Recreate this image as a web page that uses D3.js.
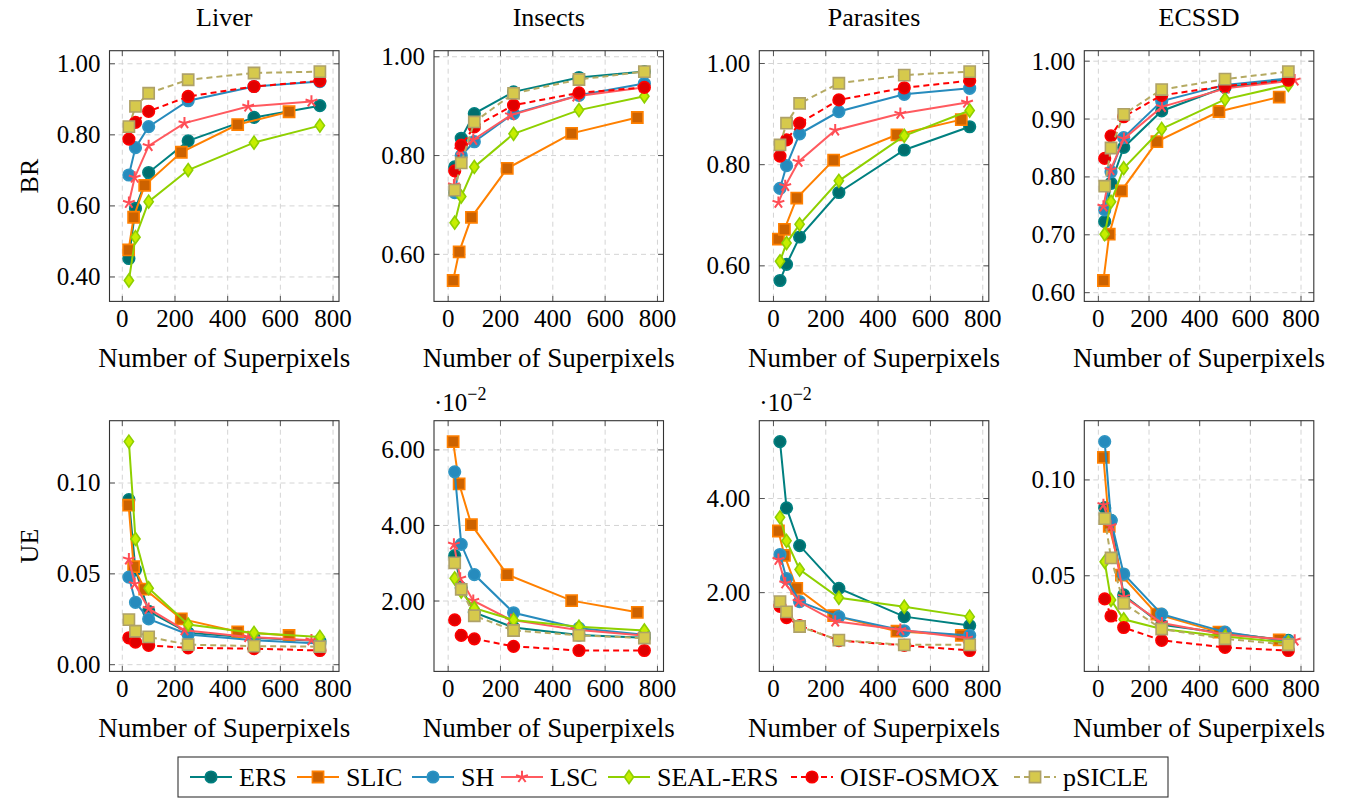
<!DOCTYPE html>
<html>
<head>
<meta charset="utf-8">
<script src="https://cdn.jsdelivr.net/npm/d3@7"></script>
<style>
  body { margin: 0; background: #fff; }
  text { font-family: "Liberation Serif", "Times New Roman", serif; fill: #000; }
</style>
</head>
<body>
<div id="chart"></div>
<script>
// chart data
var datasets = ["Liver", "Insects", "Parasites", "ECSSD"];
var methods = ["ERS", "SLIC", "SH", "LSC", "SEAL-ERS", "OISF-OSMOX", "pSICLE"];

// number of superpixels (x) per dataset; SLIC and LSC give their own counts
var xStd = [25, 50, 100, 250, 500, 750];
var xSlicLiver = [24, 43, 85, 224, 438, 633];
var xSlicInsects = [19, 42, 89, 226, 472, 723];
var xSlicParasites = [19, 42, 89, 230, 472, 718];
var xSlicEcssd = [20, 43, 91, 231, 476, 714];
var xLscLiver = [25, 47, 100, 236, 478, 718];
var xLscInsects = [22, 46, 96, 240, 490, 745];
var xLscParasites = [19, 45, 96, 236, 485, 740];
var xLscEcssd = [20, 48, 101, 251, 503, 775];

// boundary recall, order = methods
var brLiver = [
  [0.452, 0.593, 0.694, 0.783, 0.849, 0.882],
  [0.476, 0.568, 0.658, 0.751, 0.829, 0.865],
  [0.687, 0.764, 0.823, 0.896, 0.936, 0.950],
  [0.609, 0.680, 0.769, 0.833, 0.880, 0.894],
  [0.390, 0.512, 0.612, 0.701, 0.778, 0.826],
  [0.788, 0.835, 0.866, 0.908, 0.936, 0.952],
  [0.823, 0.880, 0.917, 0.955, 0.974, 0.978]
];
var brInsects = [
  [0.777, 0.835, 0.885, 0.929, 0.958, 0.970],
  [0.547, 0.605, 0.675, 0.774, 0.845, 0.877],
  [0.725, 0.800, 0.828, 0.885, 0.922, 0.946],
  [0.740, 0.812, 0.832, 0.882, 0.920, 0.938],
  [0.664, 0.717, 0.777, 0.844, 0.892, 0.920],
  [0.769, 0.821, 0.858, 0.902, 0.927, 0.938],
  [0.730, 0.785, 0.868, 0.926, 0.954, 0.970]
];
var brParasites = [
  [0.571, 0.603, 0.657, 0.745, 0.829, 0.875],
  [0.653, 0.672, 0.734, 0.809, 0.859, 0.889],
  [0.753, 0.798, 0.861, 0.905, 0.939, 0.951],
  [0.725, 0.758, 0.806, 0.868, 0.901, 0.923],
  [0.609, 0.645, 0.682, 0.768, 0.857, 0.907],
  [0.817, 0.849, 0.882, 0.928, 0.952, 0.966],
  [0.839, 0.882, 0.921, 0.961, 0.977, 0.984]
];
var brEcssd = [
  [0.723, 0.789, 0.851, 0.914, 0.955, 0.968],
  [0.621, 0.701, 0.776, 0.861, 0.913, 0.938],
  [0.743, 0.809, 0.868, 0.931, 0.959, 0.970],
  [0.749, 0.812, 0.866, 0.921, 0.953, 0.967],
  [0.701, 0.757, 0.815, 0.883, 0.934, 0.959],
  [0.832, 0.871, 0.904, 0.941, 0.957, 0.967],
  [0.784, 0.850, 0.908, 0.951, 0.969, 0.982]
];

// under-segmentation error (Insects and Parasites in units of 10^-2)
var ueLiver = [
  [0.0909, 0.0522, 0.0294, 0.0175, 0.0148, 0.0130],
  [0.0878, 0.0540, 0.0416, 0.0252, 0.0181, 0.0161],
  [0.0482, 0.0343, 0.0252, 0.0166, 0.0135, 0.0117],
  [0.0580, 0.0445, 0.0308, 0.0190, 0.0153, 0.0135],
  [0.1228, 0.0692, 0.0421, 0.0221, 0.0175, 0.0153],
  [0.0148, 0.0124, 0.0106, 0.0093, 0.0088, 0.0078],
  [0.0248, 0.0184, 0.0153, 0.0110, 0.0102, 0.0099]
];
var ueInsects = [
  [3.20, 2.35, 1.70, 1.30, 1.10, 1.03],
  [6.22, 5.10, 4.02, 2.70, 2.01, 1.70],
  [5.42, 3.50, 2.70, 1.69, 1.28, 1.11],
  [3.50, 2.60, 2.01, 1.50, 1.24, 1.09],
  [2.60, 2.25, 1.81, 1.50, 1.32, 1.22],
  [1.50, 1.09, 1.00, 0.80, 0.69, 0.69],
  [3.01, 2.31, 1.61, 1.22, 1.09, 1.02]
];
var ueParasites = [
  [5.21, 3.80, 3.00, 2.09, 1.49, 1.30],
  [3.31, 2.79, 2.09, 1.51, 1.18, 1.09],
  [2.81, 2.30, 1.81, 1.49, 1.19, 1.09],
  [2.70, 2.20, 1.81, 1.39, 1.21, 1.03],
  [3.60, 3.10, 2.49, 1.89, 1.70, 1.49],
  [1.71, 1.47, 1.30, 0.98, 0.88, 0.77],
  [1.81, 1.59, 1.28, 0.99, 0.89, 0.89]
];
var ueEcssd = [
  [0.0855, 0.0789, 0.0400, 0.0244, 0.0200, 0.0163],
  [0.1118, 0.0758, 0.0503, 0.0300, 0.0206, 0.0166],
  [0.1200, 0.0789, 0.0509, 0.0300, 0.0206, 0.0158],
  [0.0870, 0.0760, 0.0390, 0.0253, 0.0192, 0.0163],
  [0.0573, 0.0374, 0.0273, 0.0222, 0.0183, 0.0152],
  [0.0379, 0.0290, 0.0230, 0.0163, 0.0126, 0.0110],
  [0.0798, 0.0593, 0.0356, 0.0222, 0.0171, 0.0140]
];

var xTicks = [0, 200, 400, 600, 800];
var yTicksBR = [[0.4, 0.6, 0.8, 1.0], [0.6, 0.8, 1.0], [0.6, 0.8, 1.0], [0.6, 0.7, 0.8, 0.9, 1.0]];
var yTicksUE = [[0, 0.05, 0.10], [2, 4, 6], [2, 4], [0.05, 0.10]];
var ueScaled = [false, true, true, false];

var xSlic = [xSlicLiver, xSlicInsects, xSlicParasites, xSlicEcssd];
var xLsc = [xLscLiver, xLscInsects, xLscParasites, xLscEcssd];
var brData = [brLiver, brInsects, brParasites, brEcssd];
var ueData = [ueLiver, ueInsects, ueParasites, ueEcssd];

// styles
var styles = [
  { line: "#008080", fill: "#006e6e", stroke: "#008080", mark: "circle", dash: null },
  { line: "#ff8000", fill: "#cc6200", stroke: "#ff8000", mark: "square", dash: null },
  { line: "#268bbd", fill: "#268bbd", stroke: "#2f95c3", mark: "circle", dash: null },
  { line: "#ff5a5f", fill: "none", stroke: "#ff4d55", mark: "star", dash: null },
  { line: "#8fd000", fill: "#c6ee00", stroke: "#8fd000", mark: "diamond", dash: null },
  { line: "#ff0000", fill: "#e00000", stroke: "#ff0000", mark: "circle", dash: "6,4" },
  { line: "#b5aa62", fill: "#d6c94c", stroke: "#aea168", mark: "square", dash: "6,4" }
];

var W = 1346, H = 800;
var boxLeft = [109.5, 434, 759.3, 1084.3];
var boxW = 229.5;
var rowTop = [50.7, 420.7];
var boxH = 250.7;

var svg = d3.select("#chart").append("svg")
  .attr("width", W)
  .attr("height", H);

function markPath(type) {
  if (type === "circle") {
    var r = 5.8;
    return `M${-r},0a${r},${r} 0 1,0 ${2 * r},0a${r},${r} 0 1,0 ${-2 * r},0z`;
  }
  if (type === "square") {
    var s = 5.6;
    return `M${-s},${-s}h${2 * s}v${2 * s}h${-2 * s}z`;
  }
  if (type === "diamond") {
    return "M0,-6.5L4.6,0L0,6.5L-4.6,0z";
  }
  // star: spokes from the centre
  var p = "";
  for (var k = 0; k < 5; k++) {
    var a = (-90 + 72 * k) * Math.PI / 180;
    p += `M0,0L${(6.2 * Math.cos(a)).toFixed(2)},${(6.2 * Math.sin(a)).toFixed(2)}`;
  }
  return p;
}

function xValues(d, m) {
  if (m === 1) return xSlic[d];
  if (m === 3) return xLsc[d];
  return xStd;
}

function drawPanel(d, row) {
  var vals = row === 0 ? brData[d] : ueData[d];
  var yTicks = row === 0 ? yTicksBR[d] : yTicksUE[d];
  var left = boxLeft[d], top = rowTop[row];

  // pgfplots style: enlarge limits by 10% of data range
  var allX = [], allY = [];
  vals.forEach(function(series, m) {
    xValues(d, m).forEach(function(v) { allX.push(v); });
    series.forEach(function(v) { allY.push(v); });
  });
  var xe = d3.extent(allX), ye = d3.extent(allY);
  var xPad = (xe[1] - xe[0]) * 0.1, yPad = (ye[1] - ye[0]) * 0.1;

  var x = d3.scaleLinear().domain([xe[0] - xPad, xe[1] + xPad]).range([0, boxW]);
  var y = d3.scaleLinear().domain([ye[0] - yPad, ye[1] + yPad]).range([boxH, 0]);

  var g = svg.append("g").attr("transform", `translate(${left}, ${top})`);

  // grid
  g.append("g").selectAll("line")
    .data(xTicks)
    .enter().append("line")
    .attr("x1", t => x(t)).attr("x2", t => x(t))
    .attr("y1", 0).attr("y2", boxH)
    .attr("stroke", "#d4d4d4").attr("stroke-dasharray", "5,4").attr("stroke-width", 1);
  g.append("g").selectAll("line")
    .data(yTicks)
    .enter().append("line")
    .attr("x1", 0).attr("x2", boxW)
    .attr("y1", t => y(t)).attr("y2", t => y(t))
    .attr("stroke", "#d4d4d4").attr("stroke-dasharray", "5,4").attr("stroke-width", 1);

  // ticks inside the box, all four sides
  var tl = 5.5;
  var ticks = g.append("g").attr("stroke", "#555").attr("stroke-width", 1);
  xTicks.forEach(function(t) {
    ticks.append("line").attr("x1", x(t)).attr("x2", x(t)).attr("y1", boxH).attr("y2", boxH - tl);
    ticks.append("line").attr("x1", x(t)).attr("x2", x(t)).attr("y1", 0).attr("y2", tl);
  });
  yTicks.forEach(function(t) {
    ticks.append("line").attr("x1", 0).attr("x2", tl).attr("y1", y(t)).attr("y2", y(t));
    ticks.append("line").attr("x1", boxW).attr("x2", boxW - tl).attr("y1", y(t)).attr("y2", y(t));
  });

  // tick labels
  g.append("g").selectAll("text")
    .data(xTicks)
    .enter().append("text")
    .attr("x", t => x(t))
    .attr("y", boxH + 25.5)
    .attr("text-anchor", "middle")
    .attr("font-size", "25px")
    .text(t => t);
  g.append("g").selectAll("text")
    .data(yTicks)
    .enter().append("text")
    .attr("x", -9)
    .attr("y", t => y(t))
    .attr("dy", "0.34em")
    .attr("text-anchor", "end")
    .attr("font-size", "25px")
    .text(t => d3.format(".2f")(t));

  // series
  var line = d3.line().x(p => x(p[0])).y(p => y(p[1]));
  vals.forEach(function(series, m) {
    var st = styles[m];
    var pts = xValues(d, m).map((xv, i) => [xv, series[i]]);
    g.append("path")
      .datum(pts)
      .attr("d", line)
      .attr("fill", "none")
      .attr("stroke", st.line)
      .attr("stroke-width", 2)
      .attr("stroke-dasharray", st.dash);
    g.append("g").selectAll("path")
      .data(pts)
      .enter().append("path")
      .attr("transform", p => `translate(${x(p[0])}, ${y(p[1])})`)
      .attr("d", markPath(st.mark))
      .attr("fill", st.fill)
      .attr("stroke", st.stroke)
      .attr("stroke-width", st.mark === "star" ? 2 : 1.6);
  });

  // box
  g.append("rect")
    .attr("width", boxW).attr("height", boxH)
    .attr("fill", "none").attr("stroke", "#333").attr("stroke-width", 1.1);

  // x label
  g.append("text")
    .attr("x", boxW / 2)
    .attr("y", boxH + 66)
    .attr("text-anchor", "middle")
    .attr("font-size", "27px")
    .text("Number of Superpixels");

  if (row === 0) {
    g.append("text")
      .attr("x", boxW / 2)
      .attr("y", -25)
      .attr("text-anchor", "middle")
      .attr("font-size", "26px")
      .text(datasets[d]);
  }

  if (row === 1 && ueScaled[d]) {
    var sc = g.append("text")
      .attr("x", 0)
      .attr("y", -10)
      .attr("font-size", "25px");
    sc.append("tspan").text("\u00b710");
    sc.append("tspan").attr("dy", -11).attr("font-size", "18px").text("\u22122");
  }
}

d3.range(4).forEach(function(d) {
  drawPanel(d, 0);
  drawPanel(d, 1);
});

// row labels
[["BR", rowTop[0] + boxH / 2], ["UE", rowTop[1] + boxH / 2]].forEach(function(r) {
  svg.append("text")
    .attr("transform", `translate(38, ${r[1]}) rotate(-90)`)
    .attr("text-anchor", "middle")
    .attr("font-size", "26px")
    .text(r[0]);
});

// legend
var legendX = [211, 318, 433, 522, 629, 812, 1035];
var legend = svg.append("g");
legend.append("rect")
  .attr("x", 178).attr("y", 757)
  .attr("width", 990).attr("height", 40)
  .attr("fill", "#fff").attr("stroke", "#333").attr("stroke-width", 1.1);

methods.forEach(function(name, m) {
  var st = styles[m];
  var cx = legendX[m], cy = 777;
  legend.append("line")
    .attr("x1", cx - 21).attr("x2", cx + 21)
    .attr("y1", cy).attr("y2", cy)
    .attr("stroke", st.line).attr("stroke-width", 2)
    .attr("stroke-dasharray", st.dash);
  legend.append("path")
    .attr("transform", `translate(${cx}, ${cy})`)
    .attr("d", markPath(st.mark))
    .attr("fill", st.fill)
    .attr("stroke", st.stroke)
    .attr("stroke-width", st.mark === "star" ? 2 : 1.6);
  legend.append("text")
    .attr("x", cx + 28)
    .attr("y", cy + 9)
    .attr("font-size", "26px")
    .text(name);
});
</script>
</body>
</html>
